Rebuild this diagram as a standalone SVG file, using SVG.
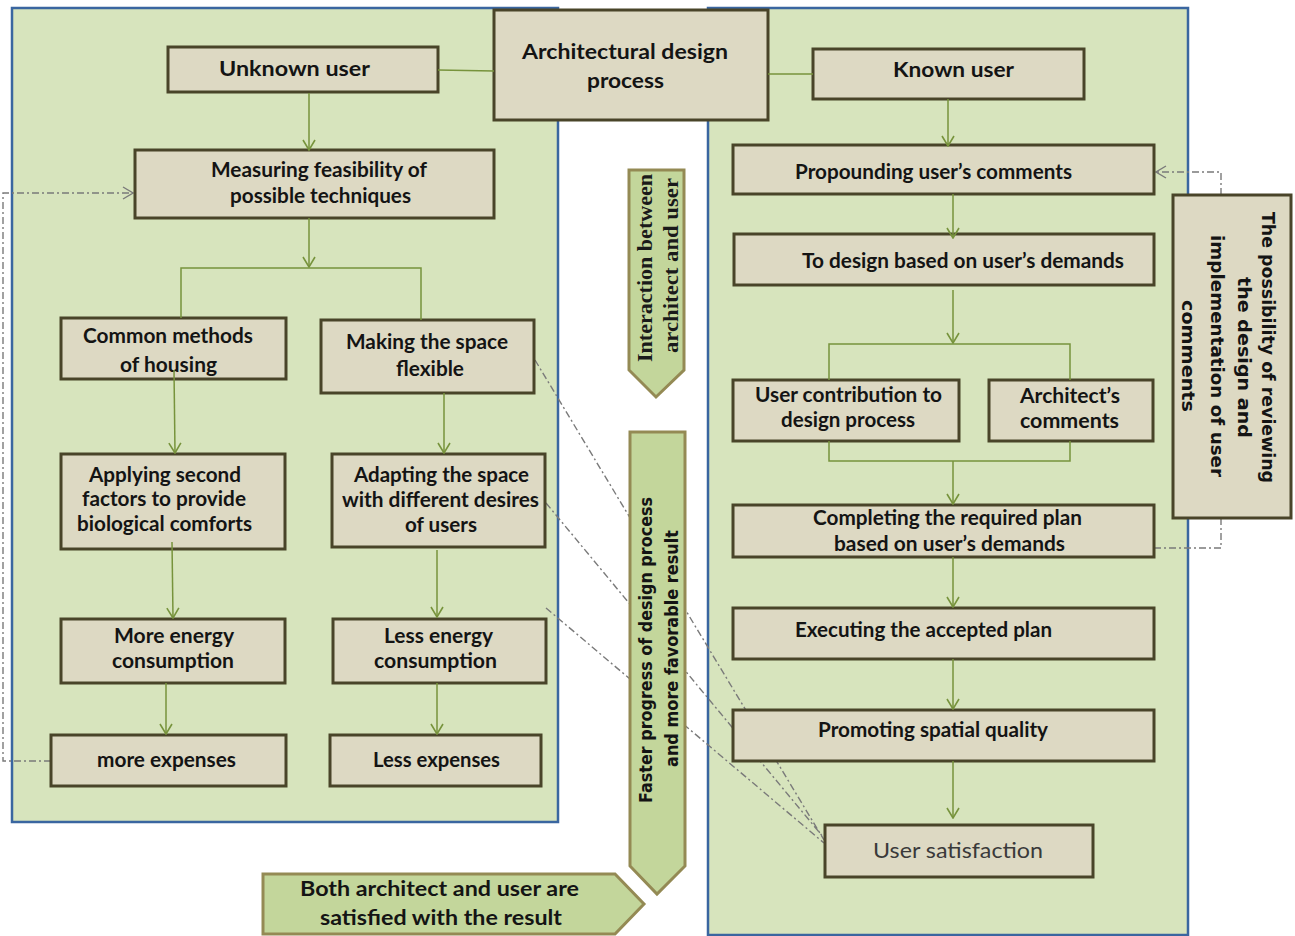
<svg xmlns="http://www.w3.org/2000/svg" width="1295" height="936" viewBox="0 0 1295 936">
  <defs>
    <marker id="head" viewBox="0 0 12 14" refX="11" refY="7" markerWidth="12" markerHeight="14" markerUnits="userSpaceOnUse" orient="auto">
      <path d="M1,1 L11,7 L1,13" fill="none" stroke="#77933C" stroke-width="1.6"/>
    </marker>
    <marker id="headGray" viewBox="0 0 12 14" refX="11" refY="7" markerWidth="12" markerHeight="14" markerUnits="userSpaceOnUse" orient="auto">
      <path d="M1,1 L11,7 L1,13" fill="none" stroke="#7A7A7A" stroke-width="1.4"/>
    </marker>
    <style>
      .panel { fill: #D7E4BD; stroke: #3A66A0; stroke-width: 2.5; }
      .box { fill: #DDD9C3; stroke: #494429; stroke-width: 3; }
      .banner { fill: #C3D69B; stroke: #948A54; stroke-width: 3; }
      .t { font-family: Lato, "Open Sans", sans-serif; font-weight: bold; font-size: 20px; fill: #141414; }
      .reg { font-family: Lato, "Open Sans", sans-serif; font-size: 22px; fill: #3A3A3A; }
      .serif { font-family: "Liberation Serif", "DejaVu Serif", serif; font-weight: bold; font-size: 20px; fill: #1A1A1A; }
      .wide { font-family: "DejaVu Sans", Verdana, sans-serif; font-weight: bold; font-size: 18px; fill: #141414; }
      .link { fill: none; stroke: #77933C; stroke-width: 1.5; }
      .arrow { fill: none; stroke: #77933C; stroke-width: 1.5; marker-end: url(#head); }
      .dash { fill: none; stroke: #7A7A7A; stroke-width: 1.4; stroke-dasharray: 7 3 2 3; }
    </style>
  </defs>

  <rect width="1295" height="936" fill="#FFFFFF"/>

  <!-- background panels -->
  <g id="panels">
    <rect class="panel" x="12" y="8" width="546" height="814"/>
    <rect class="panel" x="708" y="8" width="480" height="927"/>
  </g>

  <!-- feedback and relation lines (behind the boxes) -->
  <g id="connectors-back">
    <path class="dash" d="M51,761 H3 V193 H133" marker-end="url(#headGray)"/>
    <path class="dash" d="M1154,548 H1221 V172 H1156" marker-end="url(#headGray)"/>
    <line class="dash" x1="535" y1="360" x2="824" y2="840"/>
    <line class="dash" x1="546" y1="503" x2="824" y2="838"/>
    <line class="dash" x1="546" y1="608" x2="824" y2="843"/>
  </g>

  <g id="arch-process">
    <rect class="box" x="494" y="10" width="274" height="110"/>
    <text class="t" x="522" y="59" textLength="206" lengthAdjust="spacingAndGlyphs">Architectural design</text>
    <text class="t" x="587" y="88" textLength="77" lengthAdjust="spacingAndGlyphs">process</text>
  </g>

  <!-- unknown user branch -->
  <g id="unknown-user">
    <rect class="box" x="168" y="47" width="270" height="45"/>
    <text class="t" x="219" y="76" textLength="151" lengthAdjust="spacingAndGlyphs">Unknown user</text>
  </g>
  <g id="measuring">
    <rect class="box" x="135" y="150" width="359" height="68"/>
    <text class="t" x="211" y="177" textLength="216" lengthAdjust="spacingAndGlyphs">Measuring feasibility of</text>
    <text class="t" x="230" y="203" textLength="181" lengthAdjust="spacingAndGlyphs">possible techniques</text>
  </g>
  <g id="common-methods">
    <rect class="box" x="61" y="318" width="225" height="61"/>
    <text class="t" x="83" y="343" textLength="170" lengthAdjust="spacingAndGlyphs">Common methods</text>
    <text class="t" x="120" y="372" textLength="97" lengthAdjust="spacingAndGlyphs">of housing</text>
  </g>
  <g id="making-flexible">
    <rect class="box" x="321" y="320" width="213" height="73"/>
    <text class="t" x="346" y="349" textLength="162" lengthAdjust="spacingAndGlyphs">Making the space</text>
    <text class="t" x="396" y="376" textLength="68" lengthAdjust="spacingAndGlyphs">flexible</text>
  </g>
  <g id="applying-factors">
    <rect class="box" x="61" y="454" width="224" height="95"/>
    <text class="t" x="89" y="482" textLength="152" lengthAdjust="spacingAndGlyphs">Applying second</text>
    <text class="t" x="82" y="506" textLength="164" lengthAdjust="spacingAndGlyphs">factors to provide</text>
    <text class="t" x="77" y="531" textLength="175" lengthAdjust="spacingAndGlyphs">biological comforts</text>
  </g>
  <g id="adapting-space">
    <rect class="box" x="332" y="454" width="213" height="93"/>
    <text class="t" x="354" y="482" textLength="175" lengthAdjust="spacingAndGlyphs">Adapting the space</text>
    <text class="t" x="342" y="507" textLength="197" lengthAdjust="spacingAndGlyphs">with different desires</text>
    <text class="t" x="405" y="532" textLength="72" lengthAdjust="spacingAndGlyphs">of users</text>
  </g>
  <g id="more-energy">
    <rect class="box" x="61" y="619" width="224" height="64"/>
    <text class="t" x="114" y="643" textLength="120" lengthAdjust="spacingAndGlyphs">More energy</text>
    <text class="t" x="112" y="668" textLength="122" lengthAdjust="spacingAndGlyphs">consumption</text>
  </g>
  <g id="less-energy">
    <rect class="box" x="333" y="619" width="213" height="64"/>
    <text class="t" x="384" y="643" textLength="109" lengthAdjust="spacingAndGlyphs">Less energy</text>
    <text class="t" x="374" y="668" textLength="123" lengthAdjust="spacingAndGlyphs">consumption</text>
  </g>
  <g id="more-expenses">
    <rect class="box" x="51" y="735" width="235" height="51"/>
    <text class="t" x="97" y="767" textLength="139" lengthAdjust="spacingAndGlyphs">more expenses</text>
  </g>
  <g id="less-expenses">
    <rect class="box" x="330" y="735" width="211" height="51"/>
    <text class="t" x="373" y="767" textLength="127" lengthAdjust="spacingAndGlyphs">Less expenses</text>
  </g>

  <!-- known user branch -->
  <g id="known-user">
    <rect class="box" x="813" y="49" width="271" height="50"/>
    <text class="t" x="893" y="77" textLength="121" lengthAdjust="spacingAndGlyphs">Known user</text>
  </g>
  <g id="propounding">
    <rect class="box" x="733" y="145" width="421" height="49"/>
    <text class="t" x="795" y="179" textLength="277" lengthAdjust="spacingAndGlyphs">Propounding user’s comments</text>
  </g>
  <g id="design-demands">
    <rect class="box" x="734" y="234" width="420" height="51"/>
    <text class="t" x="802" y="268" textLength="322" lengthAdjust="spacingAndGlyphs">To design based on user’s demands</text>
  </g>
  <g id="user-contribution">
    <rect class="box" x="733" y="380" width="226" height="61"/>
    <text class="t" x="755" y="402" textLength="187" lengthAdjust="spacingAndGlyphs">User contribution to</text>
    <text class="t" x="781" y="427" textLength="134" lengthAdjust="spacingAndGlyphs">design process</text>
  </g>
  <g id="architect-comments">
    <rect class="box" x="989" y="380" width="164" height="61"/>
    <text class="t" x="1020" y="403" textLength="100" lengthAdjust="spacingAndGlyphs">Architect’s</text>
    <text class="t" x="1020" y="428" textLength="99" lengthAdjust="spacingAndGlyphs">comments</text>
  </g>
  <g id="completing-plan">
    <rect class="box" x="733" y="505" width="421" height="52"/>
    <text class="t" x="813" y="525" textLength="269" lengthAdjust="spacingAndGlyphs">Completing the required plan</text>
    <text class="t" x="834" y="551" textLength="231" lengthAdjust="spacingAndGlyphs">based on user’s demands</text>
  </g>
  <g id="executing-plan">
    <rect class="box" x="733" y="608" width="421" height="51"/>
    <text class="t" x="795" y="637" textLength="257" lengthAdjust="spacingAndGlyphs">Executing the accepted plan</text>
  </g>
  <g id="promoting-quality">
    <rect class="box" x="733" y="710" width="421" height="51"/>
    <text class="t" x="818" y="737" textLength="230" lengthAdjust="spacingAndGlyphs">Promoting spatial quality</text>
  </g>
  <g id="user-satisfaction">
    <rect class="box" x="825" y="825" width="268" height="52"/>
    <text class="reg" x="873" y="858" textLength="170" lengthAdjust="spacingAndGlyphs">User satisfaction</text>
  </g>

  <!-- review loop box -->
  <g id="review-possibility">
    <rect class="box" x="1173" y="195" width="118" height="323"/>
    <text class="wide" transform="translate(1262,212) rotate(90)" textLength="271" lengthAdjust="spacingAndGlyphs">The possibility of reviewing</text>
    <text class="wide" transform="translate(1238,277) rotate(90)" textLength="161" lengthAdjust="spacingAndGlyphs">the design and</text>
    <text class="wide" transform="translate(1211,235) rotate(90)" textLength="242" lengthAdjust="spacingAndGlyphs">implementation of user</text>
    <text class="wide" transform="translate(1182,300) rotate(90)" textLength="112" lengthAdjust="spacingAndGlyphs">comments</text>
  </g>

  <!-- banner arrows -->
  <g id="interaction">
    <polygon class="banner" points="629,170 684,170 684,370 656,397 629,370"/>
    <text class="serif" transform="translate(652,362) rotate(-90)" textLength="188" lengthAdjust="spacingAndGlyphs">Interaction between</text>
    <text class="serif" transform="translate(678,353) rotate(-90)" textLength="175" lengthAdjust="spacingAndGlyphs">architect  and user</text>
  </g>
  <g id="faster-progress">
    <polygon class="banner" points="630,432 685,432 685,866 657,894 630,866"/>
    <text class="wide" transform="translate(652,803) rotate(-90)" textLength="306" lengthAdjust="spacingAndGlyphs">Faster progress of  design process</text>
    <text class="wide" transform="translate(678,767) rotate(-90)" textLength="237" lengthAdjust="spacingAndGlyphs">and more favorable result</text>
  </g>
  <g id="both-satisfied">
    <polygon class="banner" points="263,874 615,874 644,904 615,934 263,934"/>
    <text class="t" x="300" y="896" textLength="279" lengthAdjust="spacingAndGlyphs">Both architect and user are</text>
    <text class="t" x="320" y="925" textLength="242" lengthAdjust="spacingAndGlyphs">satisfied with the result</text>
  </g>

  <!-- flow connectors -->
  <g id="connectors">
    <line class="link" x1="438" y1="70" x2="494" y2="71"/>
    <line class="link" x1="768" y1="74" x2="813" y2="74"/>
    <line class="arrow" x1="309" y1="93" x2="309" y2="150"/>
    <line class="arrow" x1="309" y1="218" x2="309" y2="267"/>
    <path class="link" d="M181,318 V268 H421 V320"/>
    <line class="arrow" x1="174" y1="370" x2="175" y2="453"/>
    <line class="arrow" x1="444" y1="393" x2="444" y2="453"/>
    <line class="arrow" x1="172" y1="542" x2="173" y2="618"/>
    <line class="arrow" x1="437" y1="550" x2="437" y2="617"/>
    <line class="arrow" x1="166" y1="683" x2="166" y2="734"/>
    <line class="arrow" x1="437" y1="683" x2="437" y2="734"/>

    <line class="arrow" x1="948" y1="99" x2="948" y2="146"/>
    <line class="arrow" x1="953" y1="194" x2="953" y2="238"/>
    <line class="arrow" x1="953" y1="290" x2="953" y2="343"/>
    <path class="link" d="M829,380 V344 H1070 V380"/>
    <path class="link" d="M829,441 V461 H1070 V441"/>
    <line class="arrow" x1="953" y1="461" x2="953" y2="504"/>
    <line class="arrow" x1="953" y1="557" x2="953" y2="607"/>
    <line class="arrow" x1="953" y1="659" x2="953" y2="709"/>
    <line class="arrow" x1="953" y1="761" x2="953" y2="818"/>
  </g>
</svg>
